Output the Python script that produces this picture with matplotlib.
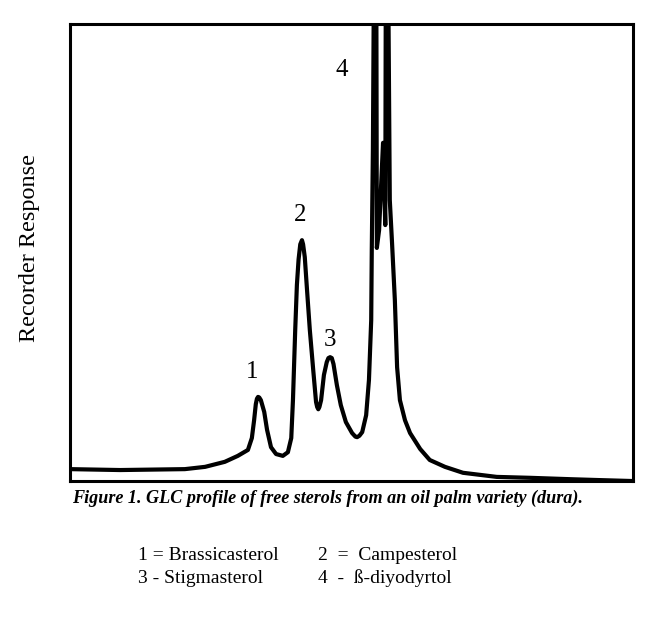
import numpy as np
import matplotlib
matplotlib.use("Agg")
import matplotlib.pyplot as plt

# GLC trace (x = % of run, y = % of full scale)
rt = [0, 8.9, 20.4, 24.0, 27.5, 29.8, 31.6, 32.3, 32.7, 33.0, 33.2, 33.4, 33.6,
      33.9, 34.5, 35.0, 35.7, 36.6, 37.8, 38.7, 39.3, 39.6, 40.0, 40.3, 40.6,
      40.9, 41.2, 41.4, 41.7, 42.1, 42.6, 43.2, 43.7, 43.9, 44.1, 44.3, 44.6,
      45.1, 45.6, 45.9, 46.2, 46.5, 46.8, 47.4, 48.1, 49.0, 50.1, 50.7, 51.0,
      51.4, 51.9, 52.6, 53.1, 53.5, 53.6, 53.8, 54.0, 54.4, 54.5, 54.9, 55.6,
      56.0, 56.1, 56.5, 56.8, 57.2, 57.7, 58.1, 58.6, 59.5, 60.4, 62.2, 63.9,
      66.6, 69.8, 75.8, 81.7, 88.8, 94.1, 99.8]
resp = [2.6, 2.4, 2.6, 3.1, 4.2, 5.5, 6.8, 9.4, 13.3, 16.8, 18.0, 18.4, 18.3,
        17.7, 15.1, 11.2, 7.4, 5.9, 5.5, 6.3, 9.4, 17.7, 33.0, 42.9, 48.5,
        51.8, 52.7, 51.8, 49.0, 41.8, 33.0, 24.3, 17.3, 16.2, 15.7, 16.2, 17.7,
        23.2, 26.0, 26.9, 27.1, 26.9, 25.6, 21.0, 16.6, 12.9, 10.5, 9.7, 9.6,
        9.9, 10.7, 14.4, 22.1, 35.2, 50.5, 72.4, 114, 114, 51.0, 54.9, 74.0,
        56.0, 114, 114, 61.5, 52.1, 39.6, 24.9, 17.7, 13.3, 10.5, 7.0, 4.6,
        3.1, 1.8, 0.9, 0.7, 0.4, 0.2, 0.0]

peak_ids = ["1", "2", "3", "4"]
peak_rt = [32.3, 40.9, 46.2, 48.3]
peak_lab_y = [23.9, 58.2, 30.9, 89.9]

legend_rows = [("1 = Brassicasterol", "2  =  Campesterol"),
               ("3 - Stigmasterol", "4  -  ß-diyodyrtol")]
caption = "Figure 1. GLC profile of free sterols from an oil palm variety (dura)."

serif = ["Liberation Serif", "DejaVu Serif"]

fig = plt.figure(figsize=(6.58, 6.17), dpi=100)
ax = fig.add_axes([0.1064, 0.2204, 0.8556, 0.7407])
ax.plot(rt, resp, color="black", lw=3.0, solid_joinstyle="round",
        solid_capstyle="round")
ax.set_xlim(0, 100)
ax.set_ylim(0, 100)
ax.set_xticks([])
ax.set_yticks([])
for s in ax.spines.values():
    s.set_linewidth(2.2)

for lab, x, y in zip(peak_ids, peak_rt, peak_lab_y):
    ax.text(x, y, lab, ha="center", va="center", fontsize=18,
            family=serif)

fig.text(30 / 658, 0.598, "Recorder Response", rotation=90, ha="center",
         va="center", fontsize=17.5, family=serif)

fig.text(0.109, 0.193, caption, ha="left", va="center", fontsize=13.1,
         family=serif, style="italic", weight="bold")

row_y = [0.100, 0.063]
for (c1, c2), y in zip(legend_rows, row_y):
    fig.text(0.210, y, c1, ha="left", va="center", fontsize=14, family=serif)
    fig.text(0.483, y, c2, ha="left", va="center", fontsize=14, family=serif)

fig.savefig("out.png", dpi=100)
